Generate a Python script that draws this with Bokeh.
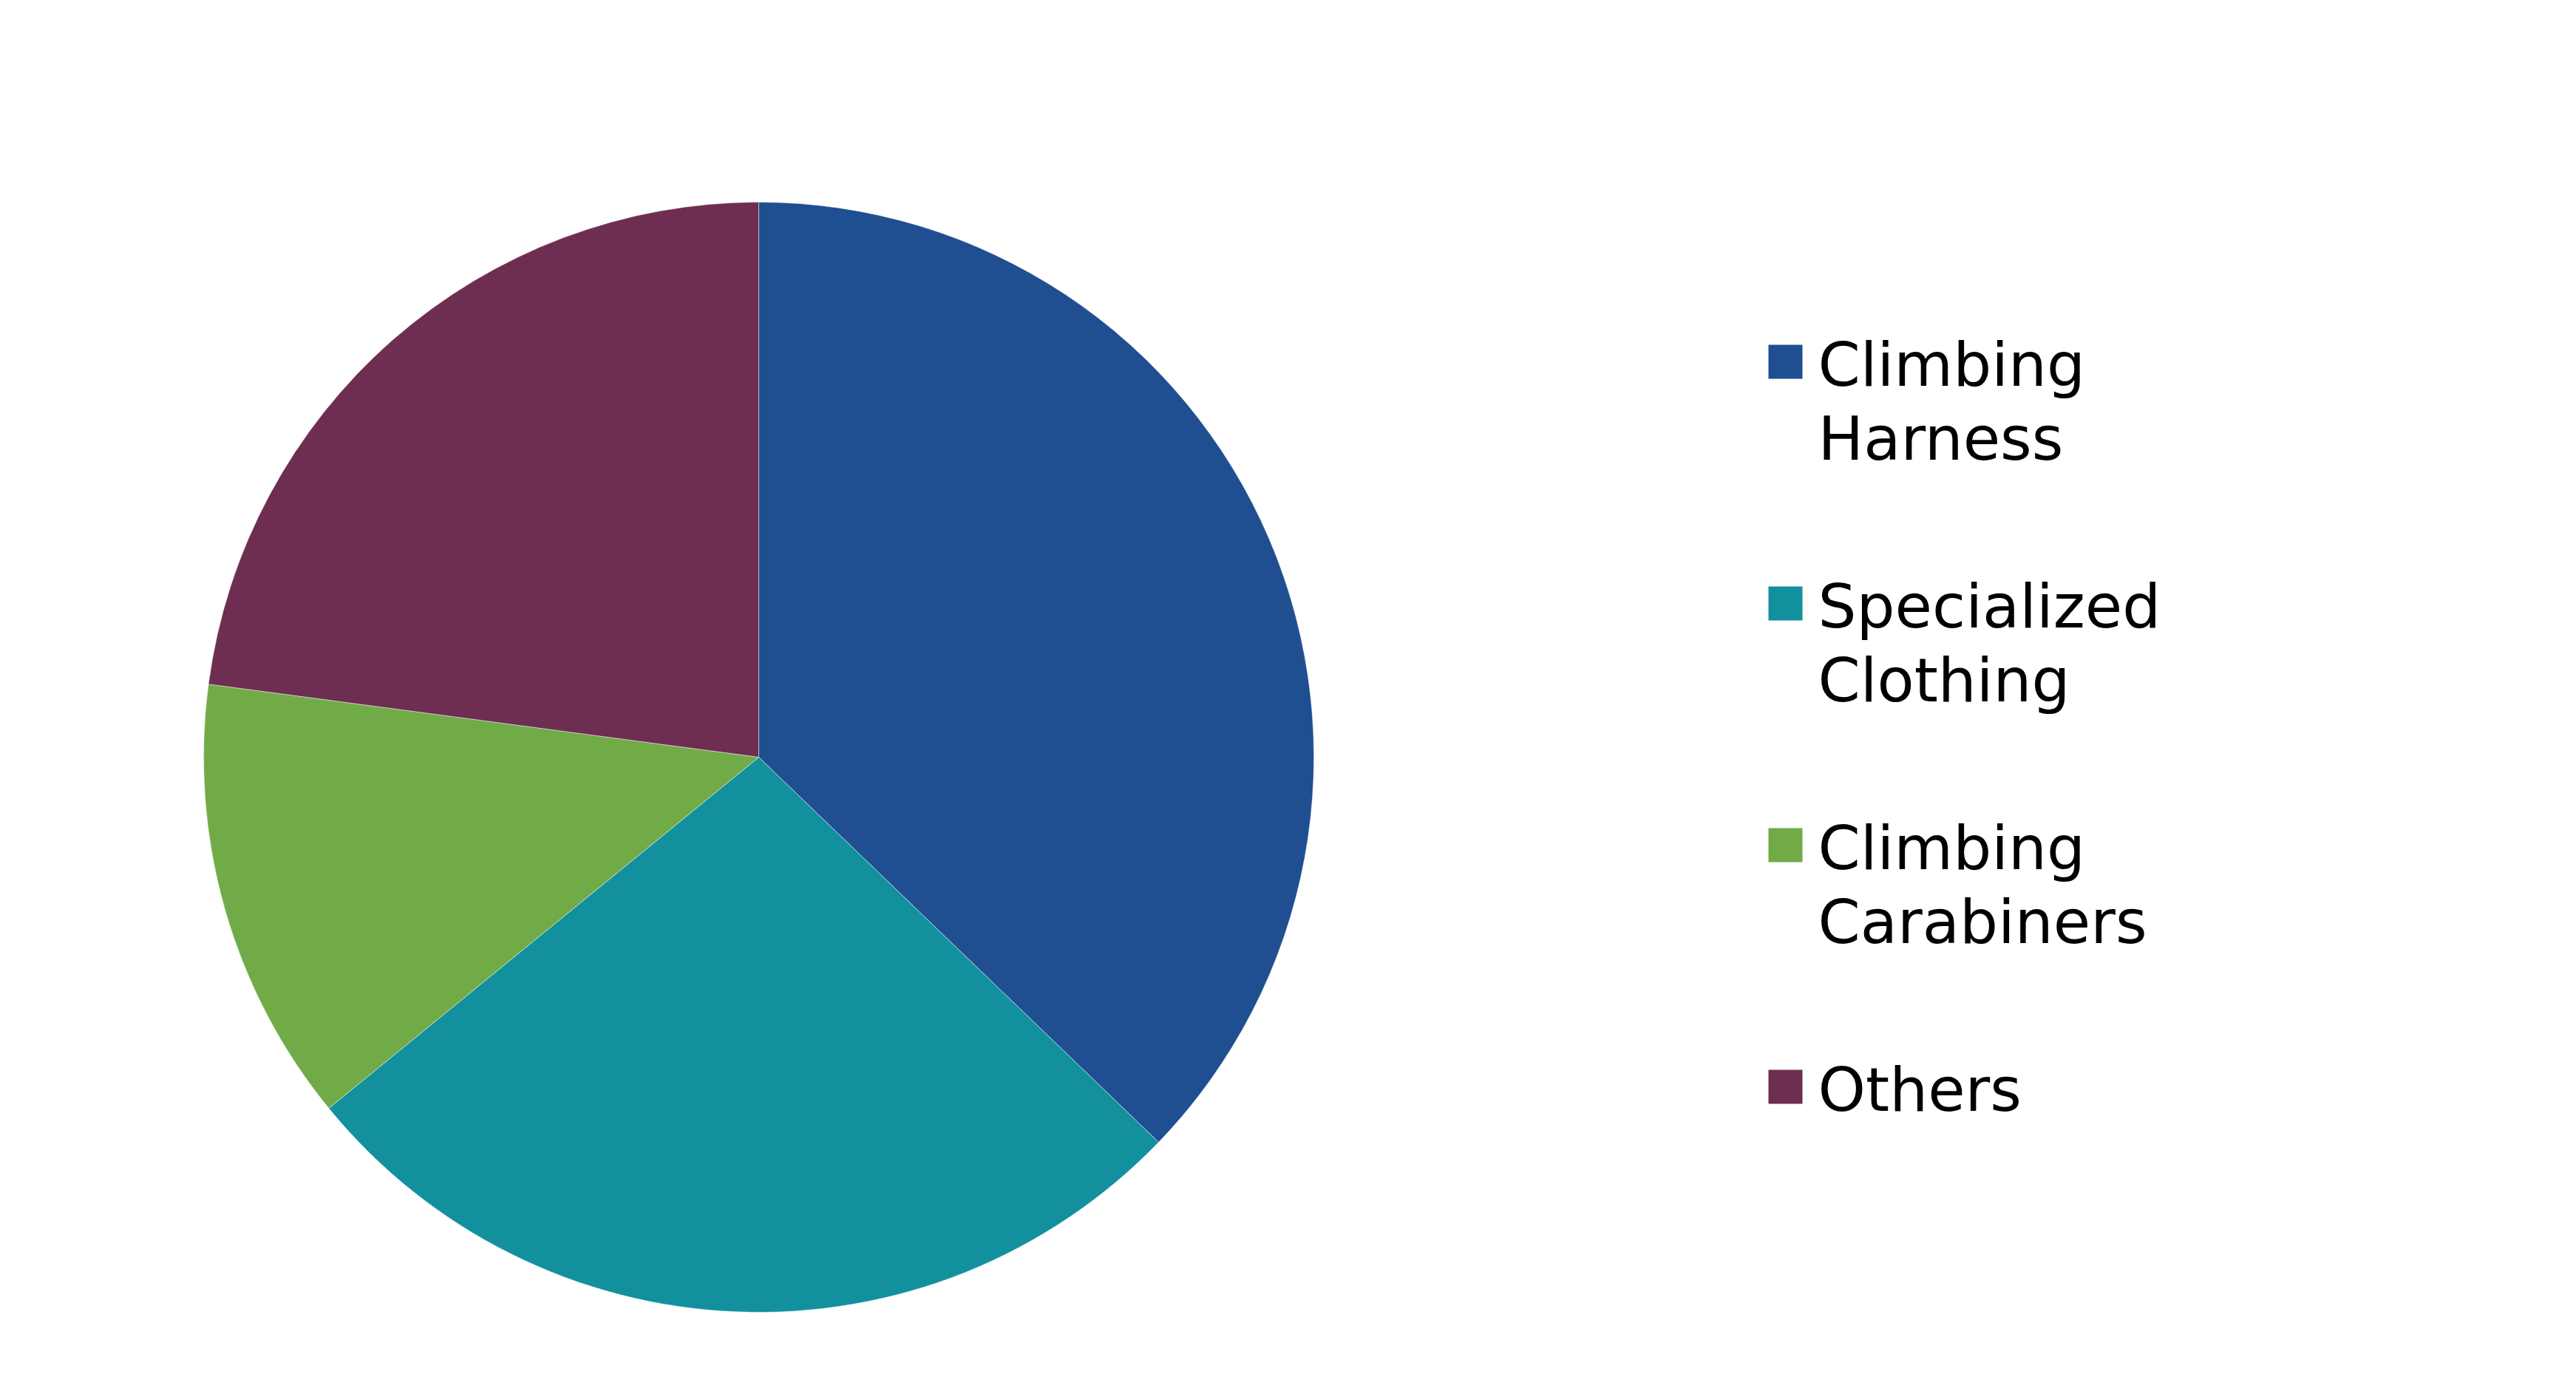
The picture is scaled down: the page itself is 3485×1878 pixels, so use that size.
#Pie chart of product sales share, redrawn with bokeh

##### IMPORT NECESSARY MODULES #####
from math import pi

from bokeh.plotting import figure
from bokeh.models import Range1d
from bokeh.core.properties import value
from bokeh.embed import file_html
from bokeh.resources import INLINE

#### DATA ####
categories = ["Climbing\nHarness", "Specialized\nClothing", "Climbing\nCarabiners", "Others"]
shares = [37.2, 26.9, 13.0, 22.9]
colors = ["#1F4E91", "#12909E", "#70AB47", "#6D2E51"]

#### LAYOUT (pixels of the page) ####
W = 3469
H = 1862
cx, cy = 1026, H - 1024   #pie centre
radius = 751
legend_x = 2415           #centre of legend squares
text_x = 2459
first_mid = H - 489       #middle of first legend line
entry_gap = 327
line_gap = 100
font_px = 82
text_shift = 26           #lift of the text against the squares

#start and end angles, clockwise from 12 o'clock
total = float(sum(shares))
starts = []
ends = []
running = 0.0
for s in shares:
    starts.append(pi / 2 - running / total * 2 * pi)
    running += s
    ends.append(pi / 2 - running / total * 2 * pi)

#### FIGURE ####
p = figure(width=W, height=H, x_range=Range1d(0, W), y_range=Range1d(0, H),
           output_backend="svg", toolbar_location=None, min_border=0)
p.axis.visible = False
p.grid.visible = False
p.outline_line_color = None
p.background_fill_color = "white"

#pie slices
p.wedge(x=[cx] * len(shares), y=[cy] * len(shares), radius=radius,
        start_angle=starts, end_angle=ends, direction="clock",
        fill_color=colors, line_color="white", line_width=0.8, line_alpha=0.6)

#legend squares and labels
mids = [first_mid - entry_gap * i for i in range(len(categories))]
p.rect(x=[legend_x] * len(categories), y=mids, width=46, height=46,
       fill_color=colors, line_color=None)

first_lines = [c.split("\n")[0] for c in categories]
second_lines = [c.split("\n")[1] if "\n" in c else "" for c in categories]
base = [m - 0.3645 * font_px + text_shift for m in mids]

p.text(x=[text_x] * len(categories), y=base, text=first_lines,
       text_font=value("DejaVu Sans"), text_font_size=str(font_px) + "px",
       text_baseline="alphabetic", text_align="left", text_color="black")
p.text(x=[text_x] * len(categories), y=[b - line_gap for b in base], text=second_lines,
       text_font=value("DejaVu Sans"), text_font_size=str(font_px) + "px",
       text_baseline="alphabetic", text_align="left", text_color="black")

#write page
open("out.html", "w").write(file_html(p, INLINE))
